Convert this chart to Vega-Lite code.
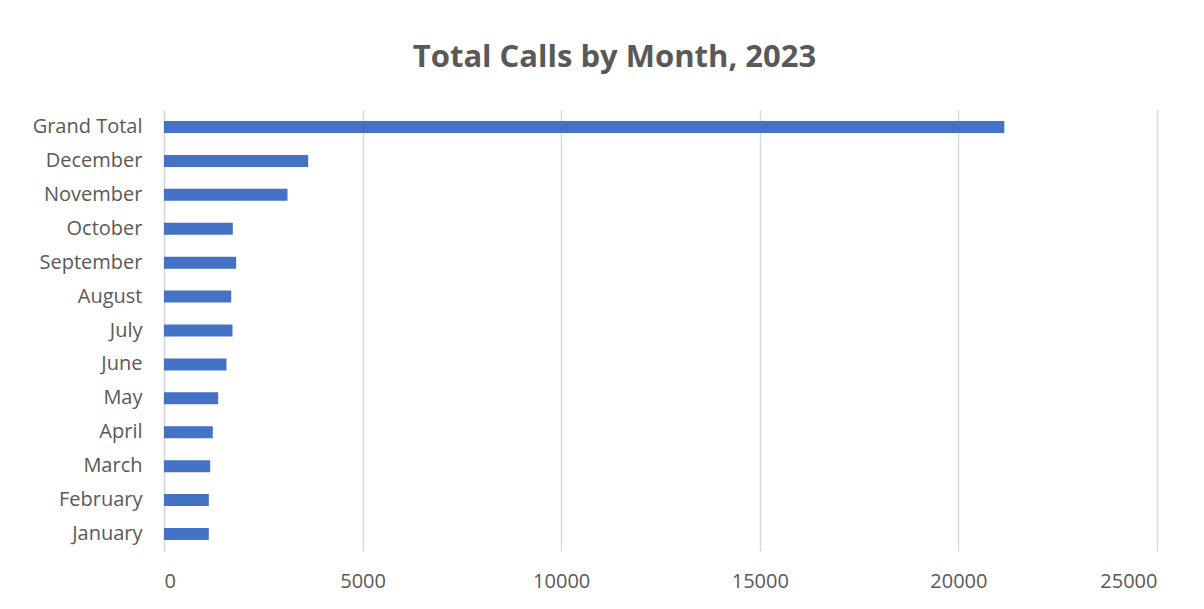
{
  "$schema": "https://vega.github.io/schema/vega-lite/v6.json",
  "width": 993,
  "height": 441,
  "autosize": "none",
  "padding": {"left": 164, "top": 110, "right": 47, "bottom": 58},
  "background": "white",
  "title": {
    "text": "Total Calls by Month, 2023",
    "font": "Open Sans",
    "fontSize": 31,
    "fontWeight": "bold",
    "color": "#595959",
    "anchor": "middle",
    "frame": "group",
    "offset": 36,
    "dx": -46
  },
  "data": {
    "values": [
      {"Month": "Grand Total", "Calls": 21156},
      {"Month": "December", "Calls": 3630},
      {"Month": "November", "Calls": 3109},
      {"Month": "October", "Calls": 1732},
      {"Month": "September", "Calls": 1817},
      {"Month": "August", "Calls": 1692},
      {"Month": "July", "Calls": 1724},
      {"Month": "June", "Calls": 1573},
      {"Month": "May", "Calls": 1364},
      {"Month": "April", "Calls": 1228},
      {"Month": "March", "Calls": 1163},
      {"Month": "February", "Calls": 1128},
      {"Month": "January", "Calls": 1128}
    ]
  },
  "mark": {"type": "bar", "color": "#4472C4", "size": 12},
  "encoding": {
    "y": {
      "field": "Month",
      "type": "nominal",
      "sort": ["Grand Total", "December", "November", "October", "September", "August", "July", "June", "May", "April", "March", "February", "January"],
      "axis": {
        "title": null,
        "ticks": false,
        "domain": true,
        "domainColor": "#d9d9d9",
        "domainWidth": 1.5,
        "labelFont": "Open Sans",
        "labelFontSize": 20,
        "labelColor": "#595959",
        "labelPadding": 22
      }
    },
    "x": {
      "field": "Calls",
      "type": "quantitative",
      "scale": {"domain": [0, 25000], "nice": false},
      "axis": {
        "title": null,
        "values": [0, 5000, 10000, 15000, 20000, 25000],
        "format": "d",
        "ticks": false,
        "domain": false,
        "grid": true,
        "gridColor": "#d9d9d9",
        "gridWidth": 1.5,
        "labelFont": "Open Sans",
        "labelFontSize": 20,
        "labelColor": "#595959",
        "labelPadding": 20,
        "labelBaseline": "top"
      }
    }
  },
  "config": {"view": {"stroke": null}}
}
